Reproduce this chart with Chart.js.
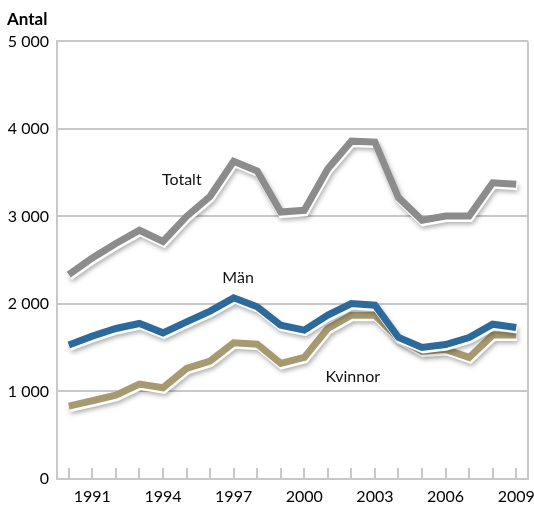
<!DOCTYPE html>
<html>
<head>
<meta charset="utf-8">
<script src="https://cdn.jsdelivr.net/npm/chart.js@4/dist/chart.umd.min.js"></script>
<style>
  html, body { margin: 0; padding: 0; background: #ffffff; }
  #wrap { width: 534px; height: 505px; position: relative; }
</style>
</head>
<body>
<div id="wrap"><canvas id="c" width="534" height="505"></canvas></div>
<script>
const years = ['1990','1991','1992','1993','1994','1995','1996','1997','1998','1999','2000','2001','2002','2003','2004','2005','2006','2007','2008','2009'];
const shownYears = ['1991','1994','1997','2000','2003','2006','2009'];
const totalt  = [2335, 2525, 2690, 2842, 2715, 3000, 3230, 3630, 3520, 3050, 3070, 3545, 3860, 3850, 3215, 2957, 3005, 3005, 3385, 3368];
const man     = [1530, 1632, 1720, 1777, 1670, 1796, 1918, 2070, 1967, 1758, 1701, 1872, 2005, 1986, 1617, 1503, 1537, 1617, 1769, 1731];
const kvinnor = [ 833,  894,  959, 1084, 1043, 1263, 1347, 1556, 1541, 1320, 1389, 1720, 1872, 1872, 1606, 1461, 1480, 1389, 1644, 1644];
const seriesNames = ['Totalt', 'Män', 'Kvinnor'];
const yTicks = [0, 1000, 2000, 3000, 4000, 5000];

const FONT = 'Lato, "Open Sans", sans-serif';

// line shadow / white edge
const shadowPlugin = {
  id: 'lineShadow',
  beforeDatasetDraw(chart, args) {
    const pts = args.meta.data;
    const ctx = chart.ctx;
    ctx.save();
    ctx.shadowColor = 'rgba(0,0,0,0.35)';
    ctx.shadowBlur = 5;
    ctx.shadowOffsetX = 1;
    ctx.shadowOffsetY = 2;
    ctx.strokeStyle = '#ffffff';
    ctx.lineWidth = 7;
    ctx.lineJoin = 'miter';
    ctx.beginPath();
    pts.forEach((p, i) => {
      if (i === 0) ctx.moveTo(p.x + 1, p.y + 2.5);
      else ctx.lineTo(p.x + 1, p.y + 2.5);
    });
    ctx.stroke();
    ctx.restore();
  }
};

// frame: right border + upward tick marks
const framePlugin = {
  id: 'frame',
  beforeDatasetsDraw(chart) {
    const ctx = chart.ctx;
    const a = chart.chartArea;
    const xs = chart.scales.x;
    ctx.save();
    ctx.strokeStyle = '#c8c8c8';
    ctx.lineWidth = 2;
    ctx.beginPath();
    ctx.moveTo(a.right, a.top);
    ctx.lineTo(a.right, a.bottom);
    years.forEach((y, i) => {
      const px = Math.round(xs.getPixelForValue(i));
      ctx.moveTo(px, a.bottom);
      ctx.lineTo(px, a.bottom - 11);
    });
    ctx.stroke();
    ctx.restore();
  }
};

// series name labels
const labelPositions = [
  { name: 'Totalt', x: 4.8, y: 3413 },
  { name: 'Män', x: 7.19, y: 2303 },
  { name: 'Kvinnor', x: 12.06, y: 1168 }
];
const labelPlugin = {
  id: 'seriesLabels',
  afterDatasetsDraw(chart) {
    const ctx = chart.ctx;
    const xs = chart.scales.x, ys = chart.scales.y;
    ctx.save();
    ctx.font = '16px ' + FONT;
    ctx.fillStyle = '#111111';
    ctx.textAlign = 'center';
    ctx.textBaseline = 'middle';
    labelPositions.forEach(l => {
      ctx.fillText(l.name, xs.getPixelForValue(l.x), ys.getPixelForValue(l.y));
    });
    ctx.restore();
  }
};

new Chart(document.getElementById('c'), {
  type: 'line',
  data: {
    labels: years,
    datasets: [
      { label: seriesNames[0], data: totalt, borderColor: '#8c8c8c', borderWidth: 7, pointRadius: 0, tension: 0, borderJoinStyle: 'miter' },
      { label: seriesNames[1], data: man, borderColor: '#2d6a9c', borderWidth: 7, pointRadius: 0, tension: 0, borderJoinStyle: 'miter' },
      { label: seriesNames[2], data: kvinnor, borderColor: '#a89a70', borderWidth: 7, pointRadius: 0, tension: 0, borderJoinStyle: 'miter' }
    ]
  },
  options: {
    responsive: false,
    animation: false,
    layout: { padding: { left: 7, right: 6, top: 0, bottom: 0 } },
    plugins: {
      legend: { display: false },
      tooltip: { enabled: false },
      title: {
        display: true,
        text: 'Antal',
        align: 'start',
        color: '#000000',
        font: { family: FONT, size: 17, weight: 'bold' },
        padding: { top: 9, bottom: 12 }
      }
    },
    scales: {
      x: {
        type: 'category',
        offset: true,
        grid: { display: false, drawTicks: false },
        border: { display: true, color: '#c8c8c8', width: 2 },
        ticks: {
          autoSkip: false,
          maxRotation: 0,
          padding: 8,
          color: '#000000',
          font: { family: FONT, size: 16 },
          callback: function(v, i) { const l = years[i]; return shownYears.includes(l) ? l : ''; }
        },
        afterFit(scale) { scale.paddingLeft = 0; scale.paddingRight = 0; scale.height = 26; }
      },
      y: {
        min: 0,
        max: 5000,
        afterBuildTicks(scale) { scale.ticks = yTicks.map(v => ({ value: v })); },
        grid: { color: '#c8c8c8', lineWidth: 2, drawTicks: false },
        border: { display: true, color: '#c8c8c8', width: 2 },
        ticks: {
          padding: 8,
          color: '#000000',
          font: { family: FONT, size: 16 },
          callback: v => v === 0 ? '0' : String(v).replace(/\B(?=(\d{3})+(?!\d))/g, ' ')
        },
        afterFit(scale) { scale.width = 50; }
      }
    }
  },
  plugins: [shadowPlugin, framePlugin, labelPlugin]
});
</script>
</body>
</html>
